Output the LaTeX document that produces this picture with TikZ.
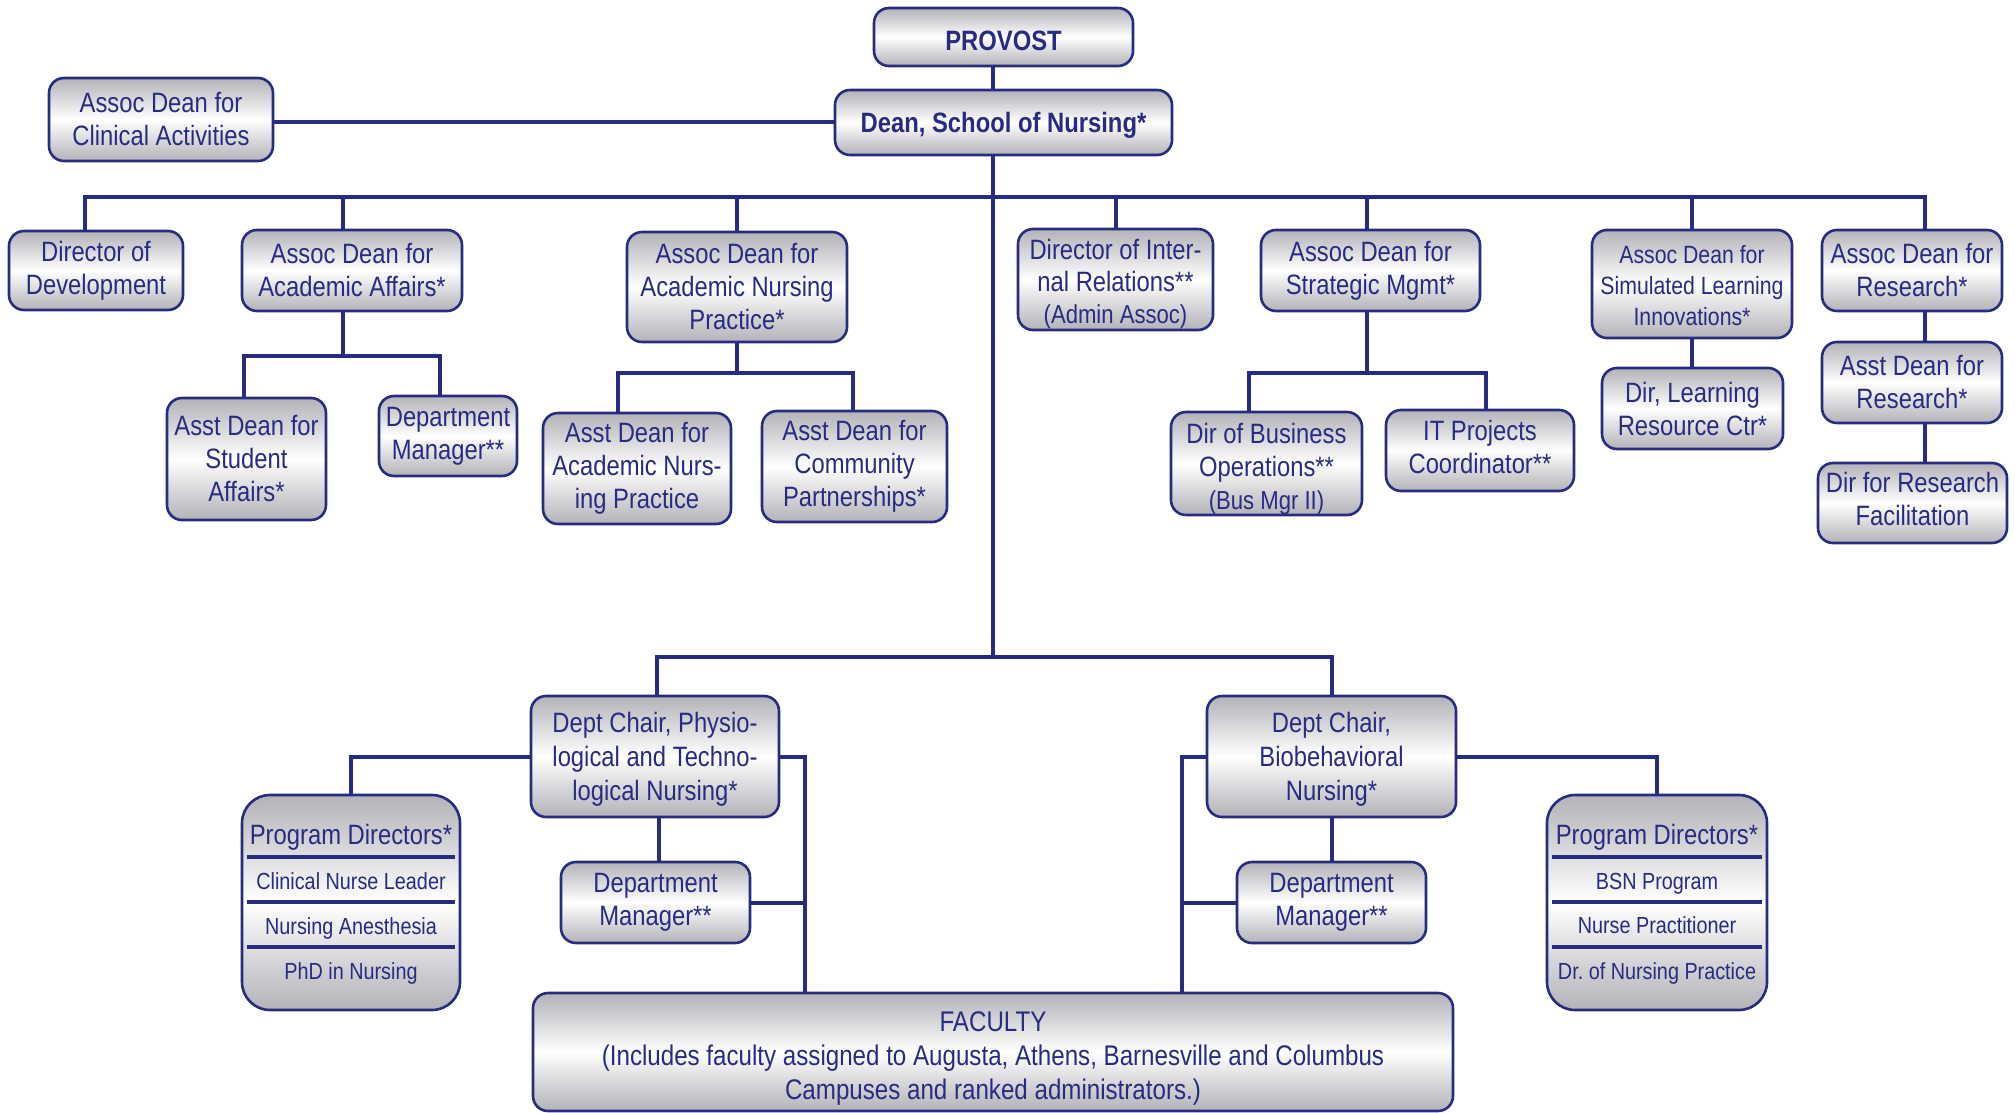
\documentclass[tikz,border=0pt]{standalone}
\usepackage{fontspec}
\setmainfont{Liberation Sans}[FakeStretch=0.85]
\usetikzlibrary{calc,backgrounds}
\definecolor{navy}{RGB}{40,44,128}
\definecolor{boxgray}{RGB}{178,178,184}
\tikzset{
  box/.style={draw=navy, line width=2.6pt, rounded corners=15pt,
    top color=boxgray, bottom color=boxgray, middle color=white,
    text=navy, align=center, inner sep=0pt,
    font=\fontsize{28}{33}\selectfont},
  sbox/.style={box, font=\fontsize{25}{31}\selectfont},
  bigbox/.style={box, rounded corners=28pt},
  txt/.style={text=navy, inner sep=0pt, anchor=base, font=\fontsize{28}{33}\selectfont},
  itm/.style={text=navy, inner sep=0pt, anchor=base, font=\fontsize{23.3}{27}\selectfont},
  conn/.style={draw=navy, line width=4pt},
  sepline/.style={draw=navy, line width=3.6pt},
}
\newcommand{\sm}[1]{{\fontsize{26}{30}\selectfont #1}}
\newcommand{\upst}[1]{\rule{0pt}{#1pt}}
\newcommand{\dnst}[1]{\rule[-#1pt]{0pt}{#1pt}}
\begin{document}
\begin{tikzpicture}[x=1pt,y=-1pt]
\useasboundingbox (0,0) rectangle (2015,1113);

% top
\node[box, minimum width=259, minimum height=58, font=\bfseries\fontsize{28}{33}\selectfont] (provost) at (1003.5,37) {\upst{26.5}PROVOST};
\node[box, minimum width=337, minimum height=65, font=\bfseries\fontsize{28}{33}\selectfont] (dean) at (1003.5,122.5) {\upst{26.5}Dean, School of Nursing*};
\node[box, minimum width=224, minimum height=83] (clin) at (161,119.5) {Assoc Dean for\\Clinical Activities};

% first row
\node[box, minimum width=174, minimum height=79] (dev) at (96,270.5) {Director of\\Development};
\node[box, minimum width=220, minimum height=81] (acad) at (352,270.5) {Assoc Dean for\\Academic Affairs*};
\node[box, minimum width=220, minimum height=110] (anp) at (737,287) {Assoc Dean for\\Academic Nursing\\Practice*};
\node[box, minimum width=195, minimum height=101, font=\fontsize{28}{32}\selectfont] (dirint) at (1115.5,279.5) {\upst{28.5}Director of Inter-\\nal Relations**\\\sm{(Admin Assoc)}};
\node[box, minimum width=219, minimum height=81] (strat) at (1370.5,270.5) {Assoc Dean for\\Strategic Mgmt*};
\node[sbox, minimum width=200, minimum height=108] (sim) at (1692,284) {\upst{22}Assoc Dean for\\Simulated Learning\\Innovations*};
\node[box, minimum width=180, minimum height=81] (res) at (1912,270.5) {Assoc Dean for\\Research*};

% second row
\node[box, minimum width=159, minimum height=122] (stud) at (246.5,459) {Asst Dean for\\Student\\Affairs*};
\node[box, minimum width=138, minimum height=80] (dm1) at (448,436) {Department\\Manager**};
\node[box, minimum width=188, minimum height=111] (adanp) at (637,468.5) {Asst Dean for\\Academic Nurs-\\ing Practice};
\node[box, minimum width=185, minimum height=111] (comm) at (854.5,466.5) {Asst Dean for\\Community\\Partnerships*};
\node[box, minimum width=191, minimum height=103] (busop) at (1266.5,463.5) {\upst{30.5}Dir of Business\\Operations**\\\sm{(Bus Mgr II)}};
\node[box, minimum width=188, minimum height=81] (it) at (1480,450.5) {IT Projects\\Coordinator**\dnst{8}};
\node[box, minimum width=181, minimum height=81] (lrc) at (1692.5,408.5) {Dir, Learning\\Resource Ctr*};
\node[box, minimum width=180, minimum height=81] (asstres) at (1912,382.5) {Asst Dean for\\Research*};
\node[box, minimum width=189, minimum height=80] (dirres) at (1912.5,503) {Dir for Research\\Facilitation\dnst{8}};

% lower part
\node[box, minimum width=248, minimum height=121, font=\fontsize{28}{34}\selectfont] (chair1) at (655,756.5) {\upst{26.7}Dept Chair, Physio-\\logical and Techno-\\logical Nursing*};
\node[box, minimum width=249, minimum height=121, font=\fontsize{28}{34}\selectfont] (chair2) at (1331.5,756.5) {\upst{26.7}Dept Chair,\\Biobehavioral\\Nursing*};
\node[box, minimum width=189, minimum height=81] (dm2) at (655.5,902.5) {Department\\Manager**};
\node[box, minimum width=189, minimum height=81] (dm3) at (1331.5,902.5) {Department\\Manager**};
\node[box, minimum width=920, minimum height=118, font=\fontsize{28.4}{34}\selectfont] (fac) at (993,1052) {\upst{32.5}FACULTY\\(Includes faculty assigned to Augusta, Athens, Barnesville and Columbus\\Campuses and ranked administrators.)};

% program directors boxes
\node[bigbox, minimum width=218, minimum height=215] (pdL) at (351,902.5) {};
\node[txt] (pdLt) at (351,844) {Program Directors*};
\node[itm] (pdL1) at (351,889) {Clinical Nurse Leader};
\node[itm] (pdL2) at (351,934) {Nursing Anesthesia};
\node[itm] (pdL3) at (351,979) {PhD in Nursing};
\draw[sepline] ($(pdL.north west)+(6,63)$) -- ($(pdL.north east)+(-6,63)$);
\draw[sepline] ($(pdL.north west)+(6,108)$) -- ($(pdL.north east)+(-6,108)$);
\draw[sepline] ($(pdL.north west)+(6,153)$) -- ($(pdL.north east)+(-6,153)$);

\node[bigbox, minimum width=220, minimum height=215] (pdR) at (1657,902.5) {};
\node[txt] (pdRt) at (1657,844) {Program Directors*};
\node[itm] (pdR1) at (1657,889) {BSN Program};
\node[itm] (pdR2) at (1657,933) {Nurse Practitioner};
\node[itm] (pdR3) at (1657,979) {Dr.\ of Nursing Practice};
\draw[sepline] ($(pdR.north west)+(6,63)$) -- ($(pdR.north east)+(-6,63)$);
\draw[sepline] ($(pdR.north west)+(6,108)$) -- ($(pdR.north east)+(-6,108)$);
\draw[sepline] ($(pdR.north west)+(6,153)$) -- ($(pdR.north east)+(-6,153)$);

% connectors
\coordinate (bus) at (993,197);
\coordinate (low) at (993,657);
\coordinate (j1) at (343,356);
\coordinate (j2) at (737,373);
\coordinate (j3) at (1367,373);
\coordinate (r1) at (805,757);
\coordinate (r2) at (1182,757);
\begin{scope}[on background layer]
\draw[conn] (provost.south -| bus) -- (dean.north -| bus);
\draw[conn] (clin.east |- dean.west) -- (dean.west);
\draw[conn] (dean.south -| bus) -- (low);
\draw[conn] ([xshift=-11pt]dev.north) |- (bus);
\draw[conn] ([xshift=-9pt]acad.north) |- (bus);
\draw[conn] (anp.north) |- (bus);
\draw[conn] (dirint.north) |- (bus);
\draw[conn] ([xshift=-3.5pt]strat.north) |- (bus);
\draw[conn] (sim.north) |- (bus);
\draw[conn] ([xshift=13pt]res.north) |- (bus);

\draw[conn] ([xshift=-9pt]acad.south) -- (j1);
\draw[conn] ([xshift=-2.5pt]stud.north) |- (j1) -| ([xshift=-8pt]dm1.north);
\draw[conn] (anp.south) -- (j2);
\draw[conn] ([xshift=-19pt]adanp.north) |- (j2) -| ([xshift=-1.5pt]comm.north);
\draw[conn] ([xshift=-3.5pt]strat.south) -- (j3);
\draw[conn] ([xshift=-17.5pt]busop.north) |- (j3) -| ([xshift=6pt]it.north);
\draw[conn] (sim.south) -- (lrc.north -| sim.south);
\draw[conn] ([xshift=13pt]res.south) -- ([xshift=13pt]asstres.north);
\draw[conn] ([xshift=13pt]asstres.south) -- ([xshift=12.5pt]dirres.north);

\draw[conn] ([xshift=2pt]chair1.north) |- (low) -| ([xshift=0.5pt]chair2.north);
\draw[conn] (chair1.west) -| (pdL.north);
\draw[conn] (chair2.east) -| (pdR.north);
\draw[conn] ([xshift=4pt]chair1.south) -- ([xshift=4pt]chair1.south |- dm2.north);
\draw[conn] (chair2.south) -- (dm3.north -| chair2.south);
\draw[conn] (chair1.east) -| (fac.north -| r1);
\draw[conn] (dm2.east) -- (dm2.east -| r1);
\draw[conn] (chair2.west) -| (fac.north -| r2);
\draw[conn] (dm3.west) -- (dm3.west -| r2);
\end{scope}
\end{tikzpicture}
\end{document}
